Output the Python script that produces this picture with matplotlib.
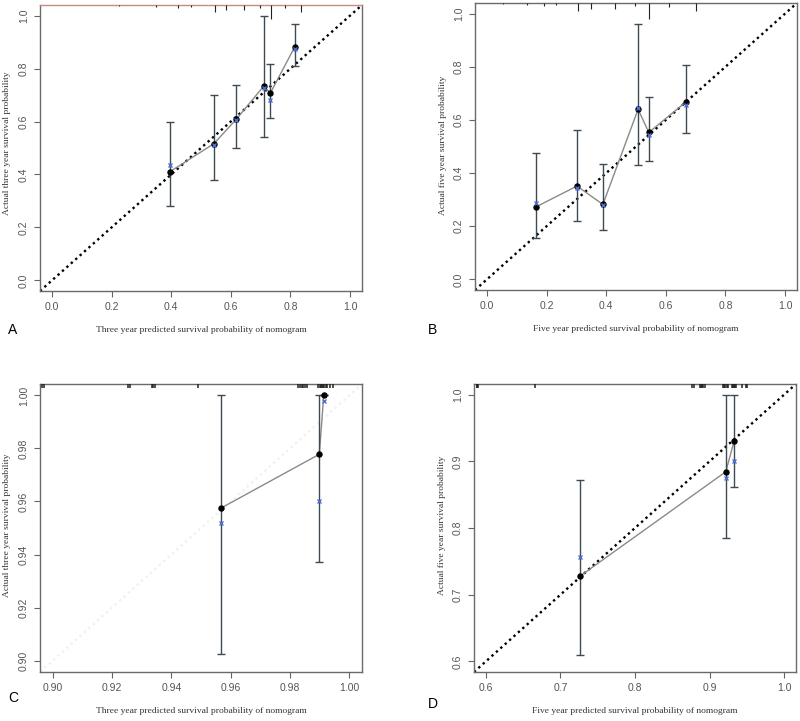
import matplotlib
matplotlib.use("Agg")
import matplotlib.pyplot as plt

# A: three year, predicted vs observed
a_pred = [0.395, 0.543, 0.618, 0.710, 0.733, 0.815]
a_obs = [0.410, 0.516, 0.608, 0.733, 0.708, 0.883]
a_lo = [0.282, 0.381, 0.500, 0.541, 0.615, 0.809]
a_hi = [0.599, 0.702, 0.737, 0.998, 0.819, 0.969]
a_corr = [0.436, 0.510, 0.605, 0.728, 0.683, 0.872]
a_rug_x = [0.226, 0.350, 0.423, 0.468, 0.547, 0.584, 0.645, 0.699, 0.736, 0.781, 0.834]
a_rug_n = [1, 2, 3, 2, 7, 5, 5, 3, 14, 3, 7]

# B: five year
b_pred = [0.165, 0.302, 0.389, 0.507, 0.543, 0.668]
b_obs = [0.273, 0.351, 0.282, 0.640, 0.553, 0.668]
b_lo = [0.154, 0.219, 0.185, 0.430, 0.445, 0.551]
b_hi = [0.476, 0.561, 0.434, 0.962, 0.687, 0.808]
b_corr = [0.288, 0.345, 0.280, 0.645, 0.543, 0.655]
b_rug_x = [0.054, 0.134, 0.190, 0.230, 0.305, 0.350, 0.428, 0.497, 0.545, 0.610, 0.702]
b_rug_n = [1, 2, 3, 2, 8, 6, 6, 3, 16, 4, 8]

# C: three year (validation)
c_pred = [0.9569, 0.9899, 0.9914]
c_obs = [0.9576, 0.9778, 1.0]
c_lo = [0.9023, 0.9371, 1.0]
c_hi = [1.0, 1.0, 1.0]
c_corr = [0.9518, 0.9602, 0.9979]
c_rug_x = [0.8964, 0.8971, 0.9255, 0.9259, 0.9334, 0.9338, 0.9344, 0.9490,
           0.9828, 0.9834, 0.9839, 0.9845, 0.9850, 0.9856,
           0.9896, 0.9900, 0.9904, 0.9908, 0.9912, 0.9916, 0.9920, 0.9924,
           0.9935, 0.9944]
c_rug_n = [4] * len(c_rug_x)

# D: five year (validation)
d_pred = [0.7265, 0.9218, 0.9330]
d_obs = [0.728, 0.8844, 0.9305]
d_lo = [0.609, 0.785, 0.861]
d_hi = [0.872, 1.0, 1.0]
d_corr = [0.7563, 0.8744, 0.9007]
d_rug_x = [0.5880, 0.5885, 0.5890, 0.6657, 0.8763, 0.8790,
           0.8870, 0.8885, 0.8900, 0.8915, 0.8935,
           0.9180, 0.9195, 0.9210, 0.9230, 0.9245,
           0.9298, 0.9312, 0.9326, 0.9340, 0.9350, 0.9430, 0.9490, 0.9500]
d_rug_n = [4] * len(d_rug_x)

ticks_ab = [0.0, 0.2, 0.4, 0.6, 0.8, 1.0]
labels_ab = ["0.0", "0.2", "0.4", "0.6", "0.8", "1.0"]
ticks_c = [0.90, 0.92, 0.94, 0.96, 0.98, 1.00]
labels_c = ["0.90", "0.92", "0.94", "0.96", "0.98", "1.00"]
ticks_d = [0.6, 0.7, 0.8, 0.9, 1.0]
labels_d = ["0.6", "0.7", "0.8", "0.9", "1.0"]

SERIF = "Liberation Serif"
SANS = "Liberation Sans"


def panel(fig, rect, pred, obs, lo, hi, corr, rug_x, rug_n, rug_scale,
          lims, ticks, labels, xlabel, diag_color="black", rug_lw=0.8):
    ax = fig.add_axes(rect)
    ax.set_xlim(lims)
    ax.set_ylim(lims)
    ax.axline((lims[0], lims[0]), slope=1, color=diag_color, lw=1.7,
              linestyle=(0, (1, 1.5)), zorder=1)
    ax.plot(pred, obs, color="#8a8a8a", lw=1.0, zorder=2)
    err_lo = [o - l for o, l in zip(obs, lo)]
    err_hi = [h - o for o, h in zip(obs, hi)]
    ax.errorbar(pred, obs, yerr=[err_lo, err_hi], fmt="none", ecolor="#3e4a52",
                elinewidth=1.0, capsize=3, capthick=1.0, zorder=3)
    ax.plot(pred, obs, "o", color="black", ms=3.6, zorder=4)
    ax.plot(pred, corr, "x", color="#4d6fd6", ms=3.5, mew=1.0, zorder=5)
    tr = ax.get_xaxis_transform()
    ax.vlines(rug_x, [1 - n * rug_scale for n in rug_n], 1, color="#222222",
              lw=rug_lw, transform=tr, clip_on=False, zorder=6)
    ax.set_xticks(ticks)
    ax.set_xticklabels(labels)
    ax.set_yticks(ticks)
    ax.set_yticklabels(labels, rotation=90, va="center")
    ax.tick_params(direction="out", length=4, width=0.8, color="#666666",
                   labelsize=7.5, labelcolor="#555555", pad=4)
    for lab in ax.get_xticklabels() + ax.get_yticklabels():
        lab.set_fontfamily(SANS)
    for sp in ax.spines.values():
        sp.set_color("#6a6a6a")
        sp.set_linewidth(1.0)
    l, b, w, h = rect
    fig.text(l + w / 2, b - 0.054, xlabel, ha="center", va="center",
             fontsize=6.8, family=SERIF, color="#333333")
    return ax


def main():
    fig = plt.figure(figsize=(8.0, 7.21), dpi=100)
    W, H = 800.0, 721.0

    def rect(x0, y0, x1, y1):
        return [x0 / W, 1 - y1 / H, (x1 - x0) / W, (y1 - y0) / H]

    s = 1.0 / 286
    ra = rect(40, 5, 362, 291)
    ax = panel(fig, ra, a_pred, a_obs, a_lo, a_hi, a_corr, a_rug_x, a_rug_n, s,
               (-0.04, 1.04), ticks_ab, labels_ab,
               "Three year predicted survival probability of nomogram")
    ax.spines["top"].set_color("#c98a84")
    fig.text(7 / W, 1 - 143 / H, "Actual three year survival probability",
             rotation=90, ha="center", va="center", fontsize=6.8, family=SERIF,
             color="#333333")
    fig.text(8 / W, 1 - 330 / H, "A", fontsize=10, family=SANS, va="center")

    rb = rect(475, 3, 797, 290)
    panel(fig, rb, b_pred, b_obs, b_lo, b_hi, b_corr, b_rug_x, b_rug_n, s,
          (-0.04, 1.04), ticks_ab, labels_ab,
          "Five year predicted survival probability of nomogram")
    fig.text(443 / W, 1 - 145 / H, "Actual five year survival probability",
             rotation=90, ha="center", va="center", fontsize=6.8, family=SERIF,
             color="#333333")
    fig.text(428 / W, 1 - 330 / H, "B", fontsize=10, family=SANS, va="center")

    rc = rect(40, 384, 362, 672)
    panel(fig, rc, c_pred, c_obs, c_lo, c_hi, c_corr, c_rug_x, c_rug_n, s,
          (0.8957, 1.0043), ticks_c, labels_c,
          "Three year predicted survival probability of nomogram",
          diag_color="#f1f1f1", rug_lw=1.1)
    fig.text(7 / W, 1 - 525 / H, "Actual three year survival probability",
             rotation=90, ha="center", va="center", fontsize=6.8, family=SERIF,
             color="#333333")
    fig.text(8 / W, 1 - 698 / H, "C", fontsize=10, family=SANS, va="center")

    rd = rect(474, 384, 796, 672)
    panel(fig, rd, d_pred, d_obs, d_lo, d_hi, d_corr, d_rug_x, d_rug_n, s,
          (0.584, 1.016), ticks_d, labels_d,
          "Five year predicted survival probability of nomogram",
          rug_lw=1.1)
    fig.text(442 / W, 1 - 525 / H, "Actual five year survival probability",
             rotation=90, ha="center", va="center", fontsize=6.8, family=SERIF,
             color="#333333")
    fig.text(428 / W, 1 - 704 / H, "D", fontsize=10, family=SANS, va="center")

    fig.savefig("out.png", dpi=100)


if __name__ == "__main__":
    main()
